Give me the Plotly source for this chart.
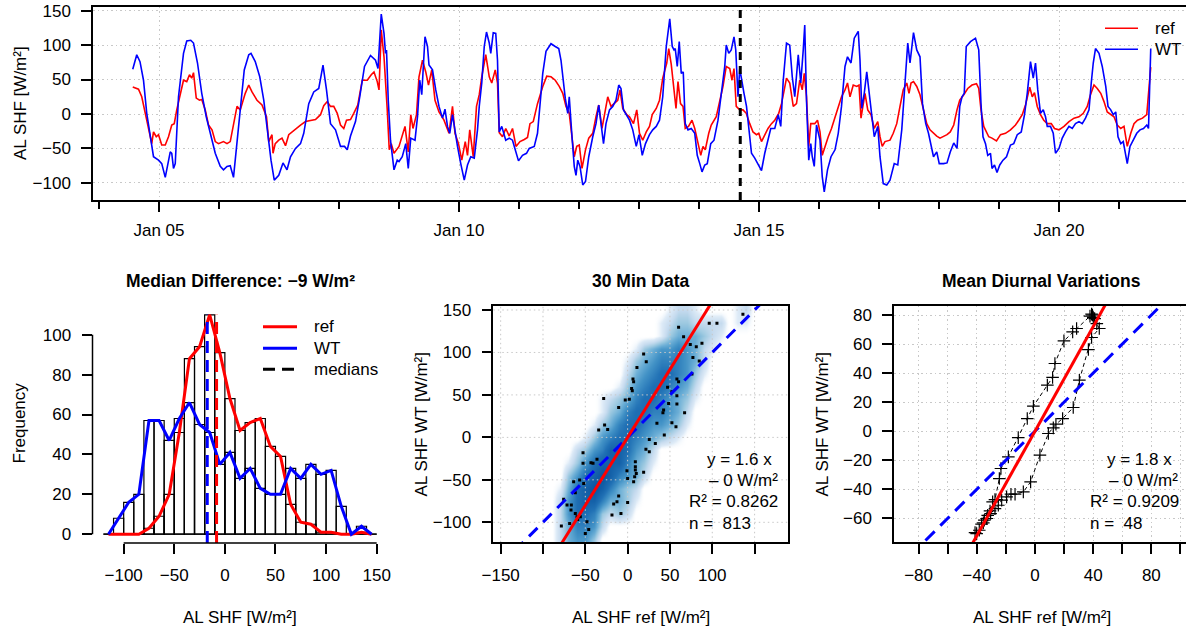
import pandas as pd
import plotly.graph_objects as go

W, H = 1186, 631
def px(x): return x / W
def py(y): return 1 - y / H

FONT = "Liberation Sans, Arial, Helvetica, sans-serif"
GRID = "#C8C8C8"
DOT = "1.5px,3px"
RED = "#FF0000"
BLUE = "#0000FF"

# ---------------- time series: (hours since Jan 04 00:00, W/m2) ----------------
BASE = pd.Timestamp("2000-01-04 00:00")
wt_points = [
(13.5,65),(15.1,86),(16.4,76),(17.8,49),(19.1,1),(20.2,-23),(21.8,-62),(23.8,-67),(25.1,-72),(26.5,-92),(27.4,-76),(28.5,-55),(29.1,-57),(29.8,-79),(30.5,-72),(31.8,25),(33.8,88),(35.1,106),(36.7,107),(37.8,103),(39.4,74),(41.1,30),(42.9,-4),(44.5,-28),(46.5,-57),(48.5,-76),(49.8,-81),(51.2,-76),(52.5,-75),(53.8,-92),(55.2,-43),(56.5,6),(58.1,64),(59.9,86),(60.8,88),(62.5,76),(64.3,54),(65.9,20),(67.2,-18),(68.8,-67),(70.1,-96),(71.9,-89),(73.6,-71),(75.2,-81),(76.6,-62),(78.6,-50),(80.6,-43),(81.9,-28),(83.9,15),(85.9,32),(87.9,37),(89.6,71),(91.0,35),(92.6,-14),(94.6,-23),(96.6,-47),(98.2,-47),(99.3,-52),(100.6,-32),(102.6,-11),(104.3,25),(106.2,69),(108.6,85),(110.6,78),(111.6,66),(112.9,145),(114.0,117),(114.6,88),(115.0,93),(115.7,20),(116.6,-38),(118.0,-81),(119.3,-67),
(120.0,-69),(121.3,-62),(122.7,-43),(123.7,-79),(124.7,-35),(126.4,-38),(127.4,-4),(128.3,49),(129.1,28),(130.4,112),(131.4,98),(132.0,71),(133.4,64),(134.7,35),(136.0,11),(137.4,-6),(138.4,7),(139.4,-18),(140.3,-28),(141.4,-1),(142.4,-26),(143.4,-47),(144.7,-72),(146.1,-96),(147.4,-74),(148.7,-62),(150.1,-64),(151.4,-23),(152.1,11),(153.1,45),(154.1,98),(155.0,119),(156.1,103),(156.7,88),(157.7,118),(158.7,117),(159.4,78),(160.1,-26),(161.1,-18),(162.7,-38),(164.1,-35),(165.4,-38),(166.5,-52),(167.8,-68),(169.4,-60),(171.0,-57),(172.1,-50),(174.1,-47),(175.4,-28),(176.4,11),(177.5,59),(178.8,91),(180.8,102),(182.5,98),(183.9,95),(184.8,78),(185.7,49),(186.5,23),(187.5,1),(188.1,25),(189.2,-33),(190.1,-76),(190.8,-89),(191.5,-67),(192.4,-76),(193.5,-103),(194.6,-98),(195.9,-62),(197.5,-33),(198.8,-14),(199.9,13),(200.8,-18),(201.8,-43),(202.8,-14),(204.2,6),(205.5,11),(206.8,20),(207.9,42),(208.8,37),(209.8,6),(210.9,-1),(212.2,-9),(213.5,-23),(214.9,-47),(216.0,-30),(217.3,-60),(218.6,-43),(220.2,-30),(221.5,-23),(222.9,-18),(224.2,-9),(225.5,25),(226.9,98),(228.3,138),(229.3,98),(230.0,93),(230.5,95),(231.3,69),(232.1,105),(232.9,59),(233.7,61),(234.5,-14),(235.6,-23),(236.9,-21),(238.3,-28),(239.3,-60),(240.3,-72),(241.2,-84),(242.3,-74),(243.3,-72),(244.7,-43),(246.0,-38),(247.6,-9),(248.9,25),(250.3,69),(250.9,100),(251.9,88),(252.9,93),(254.0,112),(254.7,93),(255.6,25),(256.3,66),(257.2,45),(258.0,30),(259.0,11),(259.9,-18),(261.0,-57),(262.3,-64),(263.6,-72),(265.0,-82),(266.3,-57),(267.6,-38),(268.7,-21),(270.3,-21),(271.7,-1),(272.7,-18),(273.7,49),(275.0,103),(276.3,100),(277.3,54),(278.3,25),(279.7,86),(280.7,45),(281.7,93),(282.3,129),(283.0,20),(283.9,-67),(284.7,-43),(285.3,-62),(286.1,-76),(287.0,-16),(288.4,-38),(289.3,-91),(290.1,-113),(291.4,-81),(292.8,-62),(294.4,-52),(295.7,-28),(297.0,11),(298.4,69),(299.4,83),(300.8,74),(302.1,110),(303.7,120),(304.4,78),(305.1,8),(306.1,30),(307.1,61),(308.0,30),(309.1,1),(310.1,-33),(311.5,-18),(312.4,-62),(313.7,-101),(315.1,-103),(316.4,-96),(318.1,-72),(319.5,-74),(321.1,-23),(322.4,45),(323.5,103),(324.4,74),(325.8,118),(327.1,93),(328.4,83),(329.4,15),(330.7,-14),(331.8,-28),(332.8,-47),(333.8,-62),(335.1,-55),(336.1,-72),(337.8,-72),(339.2,-71),(340.5,-55),(341.9,-42),(343.2,-50),(344.3,11),(345.2,25),(346.1,30),(346.9,98),(348.6,105),(350.6,110),(351.9,93),(352.8,15),(353.6,-33),(354.6,-43),(355.5,-60),(356.6,-57),(357.2,-79),(358.2,-74),(359.2,-85),(360.3,-74),(361.6,-67),(363.0,-62),(364.6,-45),(365.9,-43),(367.3,-30),(368.9,-26),(370.2,-1),(371.3,30),(371.9,49),(372.6,76),(373.7,52),(374.6,74),(375.5,35),(376.6,1),(377.7,6),(378.6,-4),(379.3,-18),(380.6,-18),(381.7,-28),(382.6,-57),(384.0,-50),(385.3,-35),(386.6,-26),(388.0,-18),(389.3,-21),(390.6,-14),(392.0,-11),(393.3,-14),(394.6,-6),(396.0,6),(396.9,45),(397.7,74),(398.6,95),(400.0,88),(401.3,69),(402.7,40),(403.6,11),(404.7,6),(405.7,-1),(406.7,3),(407.6,-33),(408.7,-43),(409.7,-40),(410.4,-52),(411.3,-72),(412.4,-47),(413.8,-38),(415.1,-28),(416.4,-23),(417.8,-21),(419.1,-16),(419.8,-21),(420.7,95)]

ref_points = [
(13.5,39),(15.8,36),(17.1,25),(18.8,-4),(20.2,-26),(21.1,-43),(21.8,-26),(22.9,-33),(23.8,-30),(25.1,-45),(26.5,-45),(27.8,-33),(29.1,-16),(30.1,-14),(31.1,6),(32.5,28),(33.8,49),(35.1,47),(36.2,57),(37.1,52),(37.8,60),(38.9,23),(40.2,20),(41.1,21),(42.5,6),(43.8,-16),(45.2,-23),(46.5,-40),(47.8,-43),(49.8,-40),(51.2,-43),(52.5,-40),(53.8,-16),(55.2,11),(56.5,6),(58.5,30),(59.9,42),(61.2,32),(63.2,20),(65.2,13),(67.0,-4),(67.9,-40),(69.2,-30),(69.6,-57),(70.5,-43),(71.9,-38),(73.2,-35),(74.6,-46),(75.9,-30),(77.2,-26),(78.6,-21),(80.6,-16),(82.6,-11),(84.6,-10),(86.6,-8),(88.6,-1),(89.9,12),(91.3,18),(92.6,11),(93.9,11),(95.3,1),(96.6,-16),(97.9,-21),(99.0,-9),(100.6,-8),(101.9,1),(103.5,13),(105.3,49),(107.3,49),(108.9,57),(110.0,61),(111.3,47),(112.0,35),(112.9,122),(114.0,83),(115.3,6),(116.1,-52),(116.9,-43),(118.0,-57),
(120.0,-47),(121.1,-33),(122.4,-18),(123.7,-55),(124.7,-1),(125.6,-21),(127.0,-1),(128.0,54),(129.4,78),(130.7,61),(131.8,42),(133.1,64),(134.4,20),(136.0,3),(138.0,-9),(140.0,-28),(141.4,11),(142.4,-28),(143.8,-43),(145.1,-67),(146.5,-40),(147.4,-60),(148.3,-23),(149.7,-62),(151.0,11),(152.1,28),(153.1,54),(154.7,86),(156.1,54),(157.1,45),(158.5,64),(159.4,45),(160.1,-27),(161.4,-33),(162.7,-21),(164.1,-32),(165.4,-21),(166.8,-47),(168.4,-40),(170.1,-37),(171.4,-34),(172.4,-14),(173.7,-11),(175.4,15),(177.5,40),(179.1,55),(180.8,54),(182.5,49),(184.1,40),(185.5,30),(186.8,11),(188.1,1),(189.2,-38),(190.1,-62),(191.1,-47),(192.1,-45),(193.2,-79),(194.6,-52),(195.9,-35),(197.5,-28),(198.8,-4),(199.9,13),(201.2,-21),(202.2,1),(203.5,25),(204.8,11),(206.2,15),(207.5,20),(208.4,35),(209.5,8),(211.1,-1),(212.2,-4),(213.8,-14),(215.1,6),(216.2,-28),(217.5,-38),(218.9,-26),(220.2,-18),(221.3,-1),(222.9,8),(224.2,20),(225.5,52),(227.1,74),(227.9,95),(228.9,72),(229.8,45),(230.8,8),(231.6,47),(232.6,15),(233.6,11),(234.5,-21),(235.8,-18),(237.2,-9),(238.3,-21),(239.6,-43),(240.7,-60),(241.6,-47),(242.5,-52),(243.9,-28),(244.9,-16),(246.9,-4),(248.3,20),(249.6,40),(250.9,69),(252.3,66),(253.2,49),(254.0,66),(254.9,11),(256.3,6),(257.6,6),(258.9,1),(260.3,-14),(261.6,-26),(263.0,-30),(263.9,-28),(265.0,-40),(266.3,-30),(267.6,-21),(269.0,-14),(270.3,-9),(271.9,1),(273.0,15),(274.1,35),(275.0,52),(276.3,45),(277.7,11),(279.0,15),(280.3,49),(281.3,35),(282.1,59),(283.0,25),(283.9,-47),(284.7,-14),(286.3,-14),(287.4,-9),(288.4,-26),(289.3,-60),(290.4,-47),(291.7,-33),(293.0,-21),(294.4,-4),(295.7,8),(297.0,25),(298.4,35),(299.4,45),(300.4,25),(301.7,42),(303.1,40),(304.0,42),(304.8,-6),(305.7,15),(306.4,30),(307.5,6),(308.8,-1),(310.1,-21),(311.5,-11),(312.4,-33),(313.3,-47),(314.4,-40),(316.4,-38),(317.7,-28),(319.1,-14),(320.4,11),(321.7,35),(323.1,45),(324.0,30),(324.8,45),(325.8,47),(327.1,40),(328.4,28),(329.8,6),(331.1,-14),(332.4,-23),(333.8,-28),(335.1,-32),(336.4,-35),(337.8,-33),(339.2,-30),(340.5,-26),(341.9,-16),(343.2,6),(344.3,20),(345.9,28),(347.5,37),(349.2,42),(351.0,44),(351.9,37),(352.8,6),(353.9,-18),(355.0,-26),(355.9,-33),(357.2,-35),(359.0,-39),(360.6,-30),(362.6,-28),(364.6,-23),(366.6,-16),(367.9,-9),(369.3,-1),(370.6,13),(371.5,25),(372.3,39),(373.3,25),(374.2,31),(375.3,11),(376.6,-1),(377.9,-9),(379.3,-14),(380.9,-14),(382.2,-21),(384.0,-23),(386.0,-18),(388.0,-11),(390.0,-6),(392.0,-4),(393.7,1),(395.3,11),(396.6,28),(398.0,42),(399.3,37),(400.7,30),(402.0,18),(403.3,3),(404.7,-1),(406.0,-4),(407.3,-16),(408.7,-21),(410.0,-18),(411.3,-47),(412.7,-28),(414.0,-14),(415.4,-9),(417.4,-6),(419.1,-1),(420.0,45),(420.7,68)]
event_hour = 256.5

# ---------------- histogram ----------------
bin_mids = list(range(-115, 146, 10))
hist_ref = [0,0,0,0,3,9,20,51,88,94,110,91,68,52,56,58,44,39,15,6,5,1,1,0,0,1,0]
hist_wt  = [0,8,16,20,57,57,47,58,66,55,51,35,41,28,33,23,20,20,33,28,35,30,32,14,0,4,0]
median_ref = -8.2
median_wt = -17.4

# ---------------- 30 min scatter ----------------
slope_30 = 1.6
r2_30 = 0.8262
n_30 = 813
outlier_ref = [136.2,96.4,105.5,60.2,66.1,74.0,81.1,87.8,18.9,22.0,77.1,84.6,11.0,76.0,58.2,60.2,6.3,7.1,4.7,5.5,47.2,52.3,58.2,-28.3,-2.8,2.0,-10.6,42.5,41.7,67.3,48.4,58.2,34.6,52.3,57.1,-34.2,-27.2,-23.6,43.3,25.6,32.7,21.6,25.6,-52.7,-52.7,-43.3,-40.9,-36.2,9.1,9.1,9.1,10.2,8.3,7.1,-0.8,0.0,18.9,-63.8,-56.7,-51.9,-61.8,-75.6,-71.6,-66.9,-61.8,-59.8,-55.9,-66.5,-10.6,-12.6,-16.5,-18.5,-7.9,0.0,-48.0,-46.0,-50.0,-68.5,-78.3,-59.0]
outlier_wt  = [144.9,134.3,134.3,129.6,118.6,109.5,106.8,110.7,98.2,89.1,94.2,89.9,82.4,74.6,68.7,65.6,68.7,65.6,57.7,55.0,58.9,53.8,49.1,45.9,44.0,44.8,35.3,32.2,29.1,29.1,40.0,39.3,16.5,17.3,12.6,8.6,14.5,9.4,2.7,-2.4,-7.1,-14.1,-16.9,-18.1,-30.6,-29.8,-30.6,-25.9,-28.7,-34.6,-38.5,-42.4,-46.3,-52.2,-39.3,-48.3,-41.2,-52.2,-50.3,-54.2,-65.2,-73.0,-79.7,-85.6,-89.5,-93.4,-93.4,-79.7,-69.1,-75.8,-78.5,-91.5,-89.5,-76.6,-99.3,-108.4,-113.1,-101.3,-104.4,-96.6]
density_x = list(range(-90, 151, 10))
density_y = list(range(-120, 151, 15))
density_rows = [
"0245530000000000000000000",
"0246652000000000000000000",
"0257763232000000000000000",
"0257886443100000000000000",
"0147898643200000000000000",
"0035789865420000000000000",
"0013578886431000000000000",
"0002356887542000000000000",
"0000135677654321000000000",
"0000013467765543100000000",
"0000001346776654200000000",
"0000001234677654310000000",
"0000000013567765420000000",
"0000000002456776531000000",
"0000000001345666542000000",
"0000000000134556542100000",
"0000000000000134443210000",
"0000000000000123322220110",
"0000000000000012210000120",
]

# ---------------- mean diurnal ----------------
slope_d = 1.8
r2_d = 0.9209
n_d = 48
diurnal_ref = [-40.1,-41.2,-38.3,-35.5,-33.2,-30.5,-27.5,-25.2,-22.9,-19.5,-16.5,-13.7,-8.0,-3.0,3.4,9.2,12.6,14.4,19.0,26.3,30.5,36.7,38.9,44.2,42.5,41.0,40.1,39.5,38.9,37.8,28.6,25.9,19.9,13.7,12.1,8.5,-1.1,-5.3,-11.5,-18.3,-23.4,-24.5,-27.5,-29.1,-30.9,-32.5,-34.8,-36.7]
diurnal_wt  = [-70.5,-69.8,-68.2,-63.1,-60.1,-56.7,-53.3,-51.0,-47.5,-45.2,-43.4,-43.4,-41.8,-34.9,-16.5,-1.6,2.3,4.8,8.7,16.3,35.1,56.2,64.5,70.7,74.0,77.5,78.3,80.0,80.6,79.2,70.7,68.4,62.2,46.6,37.0,31.7,17.2,8.7,-4.4,-17.7,-25.7,-32.6,-47.1,-48.7,-54.9,-57.9,-61.3,-64.0]

# ======================================================================
def lab(v):
    return str(v).replace("-", "\u2212")

def to_time(hours):
    return list(BASE + pd.to_timedelta(hours, unit="h"))

wt_t = to_time([p[0] for p in wt_points]); wt_v = [p[1] for p in wt_points]
ref_t = to_time([p[0] for p in ref_points]); ref_v = [p[1] for p in ref_points]

fig = go.Figure()

# ---- top time series
fig.add_trace(go.Scatter(x=ref_t, y=ref_v, mode="lines", line=dict(color=RED, width=1.6),
                         xaxis="x", yaxis="y", hoverinfo="skip"))
fig.add_trace(go.Scatter(x=wt_t, y=wt_v, mode="lines", line=dict(color=BLUE, width=1.6),
                         xaxis="x", yaxis="y", hoverinfo="skip"))

# ---- histogram
for counts in (hist_ref, hist_wt):
    fig.add_trace(go.Bar(x=bin_mids, y=counts, width=10, xaxis="x2", yaxis="y2",
                         marker=dict(color="rgba(255,255,255,0)", line=dict(color="black", width=1.2)),
                         hoverinfo="skip"))
fig.add_trace(go.Scatter(x=bin_mids, y=hist_ref, mode="lines", line=dict(color=RED, width=3),
                         xaxis="x2", yaxis="y2", hoverinfo="skip"))
fig.add_trace(go.Scatter(x=bin_mids, y=hist_wt, mode="lines", line=dict(color=BLUE, width=3),
                         xaxis="x2", yaxis="y2", hoverinfo="skip"))
hist_top = max(max(hist_ref), max(hist_wt))
HIST_YR = [-4.4, 114.4]
for med, col in ((median_wt, BLUE), (median_ref, RED)):
    fig.add_trace(go.Scatter(x=[med, med], y=[HIST_YR[0], hist_top], mode="lines",
                             line=dict(color=col, width=3, dash="12px,7px"),
                             xaxis="x2", yaxis="y2", hoverinfo="skip"))

# ---- 30 min scatter
dens_z = [[int(c) for c in r.ljust(len(density_x), "0")[:len(density_x)]] for r in density_rows]
blues = [[0.0, "rgba(255,255,255,0)"], [0.11, "#DEEBF7"], [0.22, "#C6DBEF"], [0.33, "#9ECAE1"],
         [0.45, "#6BAED6"], [0.58, "#4292C6"], [0.75, "#2171B5"], [1.0, "#0B559F"]]
fig.add_trace(go.Heatmap(x=density_x, y=density_y, z=dens_z, zmin=0, zmax=9, zsmooth="best",
                         colorscale=blues, showscale=False, xaxis="x3", yaxis="y3", hoverinfo="skip"))
X3R = [-158.7, 189.1]; Y3R = [-123.55, 155.06]
x3ticks = list(range(-150, 151, 50)); y3ticks = list(range(-100, 151, 50))
gx, gy = [], []
for v in x3ticks:
    gx += [v, v, None]; gy += [Y3R[0], Y3R[1], None]
for v in y3ticks:
    gx += [X3R[0], X3R[1], None]; gy += [v, v, None]
fig.add_trace(go.Scatter(x=gx, y=gy, mode="lines", line=dict(color=GRID, width=1, dash=DOT),
                         xaxis="x3", yaxis="y3", hoverinfo="skip"))
fig.add_trace(go.Scatter(x=outlier_ref, y=outlier_wt, mode="markers",
                         marker=dict(symbol="square", size=3, color="black", line=dict(width=0)),
                         xaxis="x3", yaxis="y3", hoverinfo="skip"))
LX = [-300, 300]
fig.add_trace(go.Scatter(x=LX, y=LX, mode="lines", line=dict(color=BLUE, width=3, dash="12px,8px"),
                         xaxis="x3", yaxis="y3", hoverinfo="skip"))
fig.add_trace(go.Scatter(x=LX, y=[slope_30 * v for v in LX], mode="lines", line=dict(color=RED, width=3),
                         xaxis="x3", yaxis="y3", hoverinfo="skip"))

# ---- mean diurnal
fig.add_trace(go.Scatter(x=diurnal_ref, y=diurnal_wt, mode="lines+markers",
                         line=dict(color="black", width=1, dash="4px,3px"),
                         marker=dict(symbol="cross-thin", size=9, color="black",
                                     line=dict(width=1.2, color="black")),
                         xaxis="x4", yaxis="y4", hoverinfo="skip"))
fig.add_trace(go.Scatter(x=LX, y=LX, mode="lines", line=dict(color=BLUE, width=3, dash="13px,8px"),
                         xaxis="x4", yaxis="y4", hoverinfo="skip"))
fig.add_trace(go.Scatter(x=LX, y=[slope_d * v for v in LX], mode="lines", line=dict(color=RED, width=3),
                         xaxis="x4", yaxis="y4", hoverinfo="skip"))

# ---------------- axes ----------------
TF = dict(family=FONT, size=17, color="black")
def ticks(standoff):
    return dict(ticks="outside", ticklen=10, tickwidth=1.5, tickcolor="black", tickfont=TF,
                zeroline=False, ticklabelstandoff=standoff, automargin=False)

major_days = [BASE + pd.Timedelta(days=d) for d in (1, 6, 11, 16)]
minor_days = [BASE + pd.Timedelta(days=d) for d in range(0, 18)]
t_lo = BASE + pd.Timedelta(hours=-2.4)
t_hi = BASE + pd.Timedelta(hours=434.8)

top_y = list(range(-100, 151, 50))
layout = dict(
    template="none",
    width=W, height=H, margin=dict(l=0, r=0, t=0, b=0, pad=0), autosize=False,
    paper_bgcolor="white", plot_bgcolor="white", showlegend=False, barmode="overlay",
    font=dict(family=FONT, size=17, color="black"),
    xaxis=dict(domain=[px(93), 1.0], range=[t_lo, t_hi], type="date", anchor="y",
               tickmode="array", tickvals=major_days, ticktext=[d.strftime("%b %d") for d in major_days],
               showgrid=True, gridcolor=GRID, griddash=DOT, gridwidth=1,
               minor=dict(tickmode="array", tickvals=minor_days, ticks="outside", ticklen=7,
                          tickwidth=1.5, tickcolor="black", showgrid=False),
               showline=True, mirror=True, linecolor="black", linewidth=1.5, **ticks(4)),
    yaxis=dict(domain=[py(200), py(6.5)], range=[-124.8, 156], anchor="x",
               tickmode="array", tickvals=top_y, ticktext=[lab(v) for v in top_y],
               showgrid=True, gridcolor=GRID, griddash=DOT, gridwidth=1,
               showline=True, mirror=False, linecolor="black", linewidth=1.5, **ticks(7)),
    xaxis2=dict(domain=[px(92.5), px(387.6)], range=[-130.8, 160.8], anchor="y2",
                tickmode="array", tickvals=list(range(-100, 151, 50)),
                ticktext=[lab(v) for v in range(-100, 151, 50)],
                showgrid=False, showline=False, **ticks(7)),
    yaxis2=dict(domain=[py(543), py(306)], range=HIST_YR, anchor="x2",
                tickmode="array", tickvals=list(range(0, 101, 20)),
                ticktext=[lab(v) for v in range(0, 101, 20)],
                showgrid=False, showline=False, **ticks(7)),
    xaxis3=dict(domain=[px(493.3), px(787.7)], range=X3R, anchor="y3",
                tickmode="array", tickvals=x3ticks,
                ticktext=[lab(v) if v not in (-100, 150) else "" for v in x3ticks],
                showgrid=False, showline=True, mirror=True, linecolor="black", linewidth=1.5,
                **ticks(7)),
    yaxis3=dict(domain=[py(542.3), py(305.7)], range=Y3R, anchor="x3",
                tickmode="array", tickvals=y3ticks, ticktext=[lab(v) for v in y3ticks],
                showgrid=False, showline=True, mirror=True, linecolor="black", linewidth=1.5,
                **ticks(7)),
    xaxis4=dict(domain=[px(894), 1.0], range=[-96.9, 103.8], anchor="y4",
                tickmode="array", tickvals=list(range(-80, 101, 20)),
                ticktext=[lab(v) if v % 40 == 0 and v <= 80 else "" for v in range(-80, 101, 20)],
                showgrid=True, gridcolor=GRID, griddash=DOT, gridwidth=1,
                showline=True, mirror=True, linecolor="black", linewidth=1.5, **ticks(7)),
    yaxis4=dict(domain=[py(542.3), py(305.7)], range=[-76.5, 86.4], anchor="x4",
                tickmode="array", tickvals=list(range(-60, 81, 20)),
                ticktext=[lab(v) for v in range(-60, 81, 20)],
                showgrid=True, gridcolor=GRID, griddash=DOT, gridwidth=1,
                showline=True, mirror=False, linecolor="black", linewidth=1.5, **ticks(7)),
)

shapes = [
    dict(type="line", xref="x", yref="y domain", x0=BASE + pd.Timedelta(hours=event_hour),
         x1=BASE + pd.Timedelta(hours=event_hour), y0=0, y1=1,
         line=dict(color="black", width=3, dash="8px,6px")),
    dict(type="line", xref="x2", yref="y2 domain", x0=-100, x1=150, y0=0, y1=0,
         line=dict(color="black", width=1.5)),
    dict(type="line", xref="x2 domain", yref="y2", x0=0, x1=0, y0=0, y1=100,
         line=dict(color="black", width=1.5)),
    dict(type="line", xref="paper", yref="paper", x0=px(1105), x1=px(1138), y0=py(28.3), y1=py(28.3),
         line=dict(color=RED, width=1.6)),
    dict(type="line", xref="paper", yref="paper", x0=px(1105), x1=px(1138), y0=py(49.3), y1=py(49.3),
         line=dict(color=BLUE, width=1.6)),
    dict(type="line", xref="paper", yref="paper", x0=px(263), x1=px(297), y0=py(326.7), y1=py(326.7),
         line=dict(color=RED, width=3)),
    dict(type="line", xref="paper", yref="paper", x0=px(263), x1=px(297), y0=py(348.3), y1=py(348.3),
         line=dict(color=BLUE, width=3)),
    dict(type="line", xref="paper", yref="paper", x0=px(263), x1=px(297), y0=py(369.3), y1=py(369.3),
         line=dict(color="black", width=3, dash="12px,7px")),
]
layout["shapes"] = shapes

def ann(text, x, y, xanchor="center", yanchor="middle", size=17, angle=0):
    return dict(text=text, x=px(x), y=py(y), xref="paper", yref="paper", xanchor=xanchor,
                yanchor=yanchor, showarrow=False, textangle=angle,
                font=dict(family=FONT, size=size, color="black"))

NB = "\u00a0"
annotations = [
    ann("AL SHF [W/m²]", 20, 103, angle=-90),
    ann("ref", 1153, 28.3, xanchor="left"),
    ann("WT", 1153, 49.3, xanchor="left"),
    ann("<b>Median Difference: \u2212" + str(abs(round(median_wt - median_ref))) + " W/m²</b>", 240, 280.5, size=17.5),
    ann("Frequency", 18.5, 423, angle=-90),
    ann("AL SHF [W/m²]", 240, 617),
    ann("ref", 312.3, 326.7, xanchor="left"),
    ann("WT", 312.3, 348.3, xanchor="left"),
    ann("medians", 312.3, 369.3, xanchor="left"),
    ann("<b>30 Min Data</b>", 640.5, 280.5, size=17.5),
    ann("AL SHF WT [W/m²]", 420.5, 424, angle=-90),
    ann("AL SHF ref [W/m²]", 640.5, 617),
    ann(f"y = {slope_30:.1f} x", 773.5, 459, xanchor="right"),
    ann("\u2013 0 W/m²", 779.5, 480, xanchor="right"),
    ann(f"R² = {r2_30:.4f}", 687, 501, xanchor="left"),
    ann(f"n = {NB}{n_30}", 687, 523, xanchor="left"),
    ann("<b>Mean Diurnal Variations</b>", 1041.7, 280.5, size=17.5),
    ann("AL SHF WT [W/m²]", 821.5, 424, angle=-90),
    ann("AL SHF ref [W/m²]", 1041.7, 617),
    ann(f"y = {slope_d:.1f} x", 1173.5, 459, xanchor="right"),
    ann("\u2013 0 W/m²", 1180, 480, xanchor="right"),
    ann(f"R² = {r2_d:.4f}", 1087.7, 501, xanchor="left"),
    ann(f"n = {NB}{n_d}", 1087.7, 523, xanchor="left"),
]
layout["annotations"] = annotations

fig.update_layout(**layout)
fig.write_html("out.html", config={"displayModeBar": False})
